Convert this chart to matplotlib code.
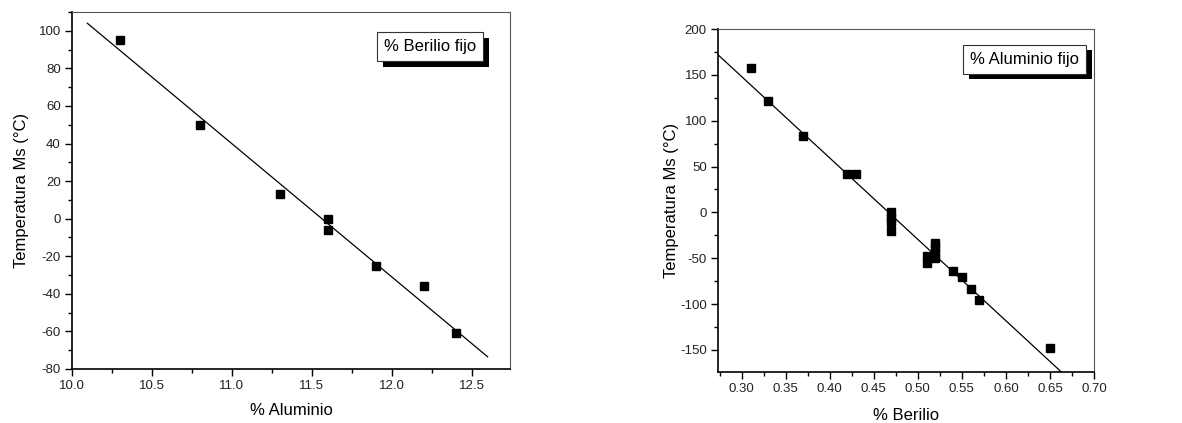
import matplotlib
matplotlib.use("Agg")
import matplotlib.pyplot as plt
import matplotlib.patheffects as pe
from matplotlib.ticker import MultipleLocator

plt.rcParams["font.family"] = ["Liberation Sans", "DejaVu Sans"]
plt.rcParams["axes.unicode_minus"] = False

# ================= DATA =================
# left panel: fixed beryllium
al_pct = [10.3, 10.8, 11.3, 11.6, 11.6, 11.9, 12.2, 12.4]
ms_al = [95, 50, 13, 0, -6, -25, -36, -61]
fit_al_x = [10.096, 12.6]
fit_al_y = [104, -73.5]

# right panel: fixed aluminium
be_pct = [0.31, 0.33, 0.37, 0.42, 0.43, 0.47, 0.47, 0.47, 0.47,
          0.51, 0.51, 0.52, 0.52, 0.52, 0.52, 0.54, 0.55, 0.56, 0.57, 0.65]
ms_be = [158, 121, 83, 41.5, 41.5, 1, -6, -10, -20,
         -47, -55, -33, -38, -44, -50, -64, -70, -84, -95, -147.5]
fit_be_x = [0.273, 0.663]
fit_be_y = [172, -174]


def style_axes(ax, xmaj, xmin, ymaj, ymin):
    """Origin-like axes: outward ticks on bottom/left only."""
    ax.xaxis.set_major_locator(MultipleLocator(xmaj))
    ax.xaxis.set_minor_locator(MultipleLocator(xmin))
    ax.yaxis.set_major_locator(MultipleLocator(ymaj))
    ax.yaxis.set_minor_locator(MultipleLocator(ymin))
    ax.tick_params(which="major", direction="out", length=5, width=1,
                   labelsize=9.5, pad=3, labelcolor="#222222")
    ax.tick_params(which="minor", direction="out", length=3, width=1)
    for sp in ["left", "bottom"]:
        ax.spines[sp].set_linewidth(1.2)
    for sp in ["right", "top"]:
        ax.spines[sp].set_linewidth(0.8)
        ax.spines[sp].set_color("#555555")


def shadow_box(ax, x, y, text):
    t = ax.text(x, y, text, transform=ax.transAxes, ha="center", va="center",
                fontsize=12,
                bbox=dict(boxstyle="square,pad=0.42", facecolor="white",
                          edgecolor="#333333", linewidth=0.8))
    t.get_bbox_patch().set_path_effects([
        pe.SimplePatchShadow(offset=(4.3, -4.3), shadow_rgbFace="black", alpha=1.0),
        pe.Normal(),
    ])


fig = plt.figure(figsize=(11.82, 4.23), dpi=100)

# ================= LEFT =================
ax1 = fig.add_axes([0.0609, 0.1277, 0.3706, 0.8440])
ax1.plot(fit_al_x, fit_al_y, color="black", linewidth=0.9)
ax1.plot(al_pct, ms_al, "s", color="black", markersize=5.5)
ax1.set_xlim(10.0, 12.74)
ax1.set_ylim(-80, 110)
style_axes(ax1, 0.5, 0.25, 20, 10)
ax1.set_xlabel("% Aluminio", fontsize=12, labelpad=8)
ax1.set_ylabel("Temperatura Ms (°C)", fontsize=12, labelpad=7)
shadow_box(ax1, 0.817, 0.903, "% Berilio fijo")

# ================= RIGHT =================
ax2 = fig.add_axes([0.6074, 0.1206, 0.3181, 0.8108])
ax2.plot(fit_be_x, fit_be_y, color="black", linewidth=0.9)
ax2.plot(be_pct, ms_be, "s", color="black", markersize=5.5)
ax2.set_xlim(0.273, 0.70)
ax2.set_ylim(-174, 200)
style_axes(ax2, 0.05, 0.025, 50, 25)
ax2.xaxis.set_major_formatter(plt.FormatStrFormatter("%.2f"))
ax2.set_xlabel("% Berilio", fontsize=12, labelpad=9)
ax2.set_ylabel("Temperatura Ms (°C)", fontsize=12, labelpad=1)
shadow_box(ax2, 0.816, 0.9125, "% Aluminio fijo")

fig.savefig("out.png", dpi=100)
